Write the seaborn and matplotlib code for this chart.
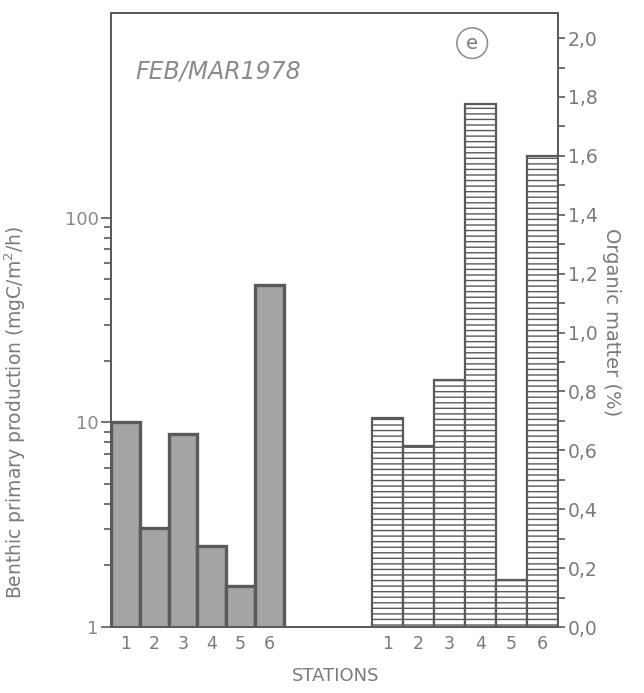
import matplotlib
matplotlib.use("Agg")
import matplotlib.pyplot as plt
import seaborn as sns
import pandas as pd
import numpy as np
from matplotlib.ticker import FixedLocator, FixedFormatter, NullFormatter

sns.set_theme(style="white")
plt.rcParams['font.family'] = ['DejaVu Sans']

# ---- data ----
stations = ["1", "2", "3", "4", "5", "6"]
production = [10.0, 3.05, 8.8, 2.5, 1.58, 47.0]      # mgC/m2/h (log axis)
organic = [0.71, 0.615, 0.84, 1.775, 0.16, 1.60]      # % organic matter
prod_ticks = [1, 10, 100]
prod_ticklabels = ["1", "10", "100"]
org_ticks = [0.0, 0.2, 0.4, 0.6, 0.8, 1.0, 1.2, 1.4, 1.6, 1.8, 2.0]
org_ticklabels = ["0,0", "0,2", "0,4", "0,6", "0,8", "1,0", "1,2", "1,4", "1,6", "1,8", "2,0"]

left_pos = [0, 1, 2, 3, 4, 5]
right_pos = [9.10, 10.176, 11.252, 12.328, 13.404, 14.48]

TXT = "#7a7a7a"
LINE = "#5a5a5a"

fig = plt.figure(figsize=(6.44, 6.93), dpi=100)
ax = fig.add_axes([0.1724, 0.0952, 0.6940, 0.8860])
ax.set_yscale("log")

df_l = pd.DataFrame({"x": left_pos, "y": production})
sns.barplot(data=df_l, x="x", y="y", native_scale=True, width=1.0,
            color="#a4a4a4", saturation=1, edgecolor=LINE, linewidth=2.4,
            ax=ax, err_kws={"linewidth": 0})
ax.set_yscale("log")
ax.set_ylim(1, 1000)
ax.set_xlim(-0.5, 15.02)

ax2 = ax.twinx()
df_r = pd.DataFrame({"x": right_pos, "y": organic})
sns.barplot(data=df_r, x="x", y="y", native_scale=True, width=1.0,
            color="white", saturation=1, edgecolor=LINE, linewidth=1.6,
            hatch="---", ax=ax2, err_kws={"linewidth": 0})
ax2.set_ylim(0, 2.085)
ax2.set_xlim(-0.5, 15.02)

# spines
for a in (ax, ax2):
    for s in ["left", "right", "top", "bottom"]:
        a.spines[s].set_color(LINE)
        a.spines[s].set_linewidth(1.3)

# left axis ticks
ax.yaxis.set_major_locator(FixedLocator(prod_ticks))
ax.yaxis.set_major_formatter(FixedFormatter(prod_ticklabels))
minor = [v * d for d in (1, 10) for v in range(2, 10)]
ax.yaxis.set_minor_locator(FixedLocator(minor))
ax.yaxis.set_minor_formatter(NullFormatter())
ax.tick_params(axis="y", which="major", direction="out", length=7, width=1.2,
               color=LINE, labelcolor="#8a8a8a", labelsize=13, pad=2, left=True)
ax.tick_params(axis="y", which="minor", direction="out", length=5, width=1.2,
               color=LINE, left=True)

# right axis ticks
ax2.yaxis.set_major_locator(FixedLocator(org_ticks))
ax2.yaxis.set_major_formatter(FixedFormatter(org_ticklabels))
ax2.yaxis.set_minor_locator(FixedLocator([0.1 + 0.2 * i for i in range(10)]))
ax2.tick_params(axis="y", which="major", direction="out", length=5, width=1.2,
                color=LINE, labelcolor=TXT, labelsize=13.5, pad=2, right=True)
ax2.tick_params(axis="y", which="minor", direction="out", length=5, width=1.2,
                color=LINE, right=True)

# x ticks
ax.set_xticks(left_pos + right_pos)
ax.set_xticklabels(stations + stations)
ax.tick_params(axis="x", length=0, labelcolor=TXT, labelsize=12.5, pad=6)
ax2.tick_params(axis="x", length=0)

ax.set_xlabel("STATIONS", color=TXT, fontsize=13)
ax.xaxis.set_label_coords(0.502, -0.065)
ax.set_ylabel("Benthic primary production (mgC/m$^2$/h)", color=TXT, fontsize=13.5)
ax.yaxis.set_label_coords(-0.185, 0.35)
ax2.set_ylabel("Organic matter (%)", color=TXT, fontsize=14, rotation=-90)
ax2.yaxis.set_label_coords(1.12, 0.497)
ax2.yaxis.label.set_va("center")

# annotations
ax.text(0.055, 0.905, "FEB/MAR1978", transform=ax.transAxes, fontsize=17,
        style="italic", color="#8a8a8a", va="center", ha="left")
ax.text(0.808, 0.951, "e", transform=ax.transAxes, fontsize=14, color=TXT,
        ha="center", va="center",
        bbox=dict(boxstyle="circle,pad=0.3", fc="white", ec="#8a8a8a", lw=1.1))

fig.savefig("out.png", dpi=100)
